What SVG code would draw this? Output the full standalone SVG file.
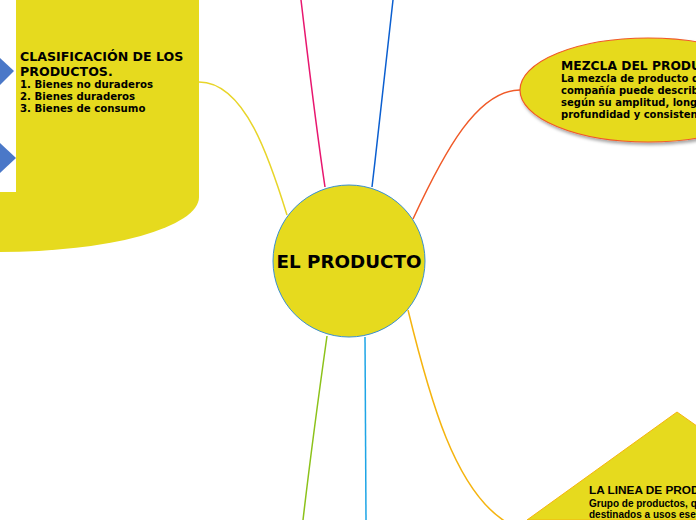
<svg xmlns="http://www.w3.org/2000/svg" width="696" height="520" viewBox="0 0 696 520">
<defs>
<style>
.fill{fill:#e6da1e}
.conn{fill:none;stroke-width:1.5}
.t{font-family:"DejaVu Sans",Verdana,sans-serif;font-weight:bold;fill:#000}
.a{font-family:"Liberation Sans",Arial,sans-serif;font-weight:bold;fill:#000}
</style>
<filter id="sh" x="-10%" y="-10%" width="130%" height="140%">
<feDropShadow dx="1.5" dy="2.5" stdDeviation="1.5" flood-color="#000" flood-opacity="0.35"/>
</filter>
</defs>
<rect width="696" height="520" fill="#fff"/>
<g id="connectors">
<path class="conn" stroke="#e8d52a" d="M287,215 C270,160 245,82 199,82"/>
<path class="conn" stroke="#e8176f" d="M325,187 C315,120 307,50 301,0"/>
<path class="conn" stroke="#0b5fd0" d="M372,187 C380,120 387,50 393,0"/>
<path class="conn" stroke="#f05a28" d="M413,219 C445,150 478,90 520,90"/>
<path class="conn" stroke="#f5b40f" d="M408,310 C430,400 455,490 506,522"/>
<path class="conn" stroke="#8cc21a" d="M327,336 C318,400 310,460 303,520"/>
<path class="conn" stroke="#1ea5e6" d="M365,337 L366,520"/>
</g>
<g id="clasificacion">
<path class="fill" d="M0,0 H199 V197 A199,55 0 0 1 0,252 Z"/>
<rect x="0" y="0" width="16" height="192" fill="#fff"/>
<polygon points="0,58 14,71 0,85" fill="#4a78c8"/>
<polygon points="0,143 16,158 0,173" fill="#4a78c8"/>
<text class="t" font-size="12.6"><tspan x="20" y="61">CLASIFICACIÓN DE LOS</tspan><tspan x="20" y="76">PRODUCTOS.</tspan></text>
<text class="t" font-size="10.2"><tspan x="20" y="88">1. Bienes no duraderos</tspan><tspan x="20" y="100">2. Bienes duraderos</tspan><tspan x="20" y="112">3. Bienes de consumo</tspan></text>
</g>
<g id="mezcla">
<ellipse class="fill" cx="648" cy="90" rx="128" ry="52" stroke="#f05a28" stroke-width="1.2" filter="url(#sh)"/>
<text class="t" font-size="12.3" x="561" y="70">MEZCLA DEL PRODUCTO</text>
<text class="t" font-size="10"><tspan x="561" y="82">La mezcla de producto de una</tspan><tspan x="561" y="94">compañía puede describirse</tspan><tspan x="561" y="106">según su amplitud, longitud,</tspan><tspan x="561" y="118">profundidad y consistencia.</tspan></text>
</g>
<g id="linea">
<polygon class="fill" points="677,412 830,520 527,520" stroke="#f5b40f" stroke-width="1"/>
<text class="a" font-size="11.8" x="589" y="494">LA LINEA DE PRODUCTOS</text>
<text class="a" font-size="10" x="589" y="507">Grupo de productos, que están</text>
<text class="a" font-size="10" x="589" y="518">destinados a usos esenciales</text>
</g>
<g id="producto">
<circle class="fill" cx="349" cy="261" r="76" stroke="#3a8fd0" stroke-width="1"/>
<text class="t" font-size="18.3" x="349" y="268" text-anchor="middle">EL PRODUCTO</text>
</g>
</svg>
